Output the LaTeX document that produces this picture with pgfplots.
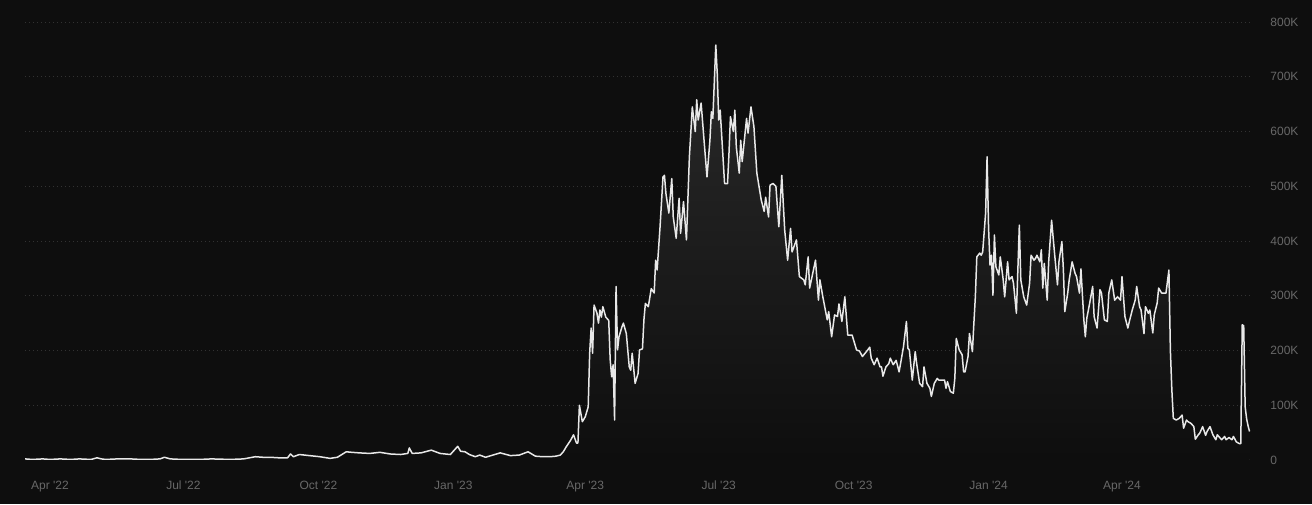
\documentclass[border=0pt]{standalone}
\usepackage{pgfplots}
\pgfplotsset{compat=1.18}
\usepackage{pgfplotstable}
\usepackage{fontspec}
\setmainfont{Liberation Sans}
\definecolor{bgc}{RGB}{14,14,14}
\definecolor{txt}{RGB}{104,104,104}
\definecolor{gridc}{RGB}{50,50,50}
\definecolor{linec}{RGB}{232,232,232}
\definecolor{fillc}{RGB}{42,42,42}

\pgfplotstableread{
day val
-17 2
-12 1
-5 2
0 1
7 2
14 1
20 2
28 1
32 4
35 2
38 1
46 2
55 2
62 1
68 1
75 2
78 5
82 2
90 1
102 1
110 2
123 1
132 2
140 6
145 5
150 5
156 4
162 4
164 11
166 6
170 10
177 8
184 6
191 3
196 5
202 15
206 14
211 13
218 12
225 14
232 11
239 10
244 12
245 22
247 12
253 13
260 18
266 12
273 10
278 25
280 16
283 15
286 10
290 6
293 9
297 5
302 9
307 13
314 8
320 9
326 15
331 7
336 6
341 6
345 7
348 9
350 15
352 24
355 36
357 46
359 31
360 31
361 100
363 70
365 79
367 97
368 195
369 241
370 195
371 283
373 268
374 250
375 274
376 261
377 280
379 261
381 255
382 183
383 152
384 174
385 73
386 317
387 201
388 225
390 243
391 250
393 231
395 170
396 164
397 195
399 140
401 158
402 201
404 203
405 256
406 286
408 280
410 313
412 305
413 365
414 347
416 426
418 517
419 520
420 487
422 451
424 514
425 444
427 405
429 478
430 414
432 472
434 402
436 554
438 645
440 600
441 658
442 621
444 652
446 584
448 517
450 584
451 636
452 624
454 758
455 706
456 621
457 639
460 505
462 505
463 560
464 627
466 600
467 639
468 572
470 524
471 584
472 545
475 624
476 597
478 645
480 609
482 524
485 475
487 454
488 480
490 444
491 502
493 505
495 500
497 426
499 520
501 420
503 365
505 423
506 380
509 402
511 335
514 329
515 320
517 371
518 314
522 365
524 292
525 329
527 298
530 256
531 271
533 225
535 265
537 262
538 285
540 253
542 298
544 228
547 228
548 219
550 201
552 199
554 189
557 199
559 206
560 186
562 174
564 186
566 170
567 170
568 153
570 170
572 176
573 186
575 174
577 182
579 161
580 176
582 207
584 253
585 204
586 201
588 146
590 198
591 176
593 140
595 134
596 170
598 140
600 131
601 116
603 140
605 149
606 146
608 146
610 146
611 131
612 143
614 125
616 122
617 149
618 222
620 201
622 192
623 161
624 161
626 189
627 231
629 198
630 250
631 298
632 371
634 378
635 374
636 380
638 451
639 554
640 426
641 356
642 374
643 301
644 411
645 353
647 338
648 371
650 329
651 298
653 362
654 329
656 335
657 323
659 268
661 429
662 329
664 298
666 283
668 323
669 374
671 365
672 368
673 374
675 362
676 384
677 314
678 359
680 292
681 362
683 438
685 378
687 320
688 362
690 399
691 350
692 271
694 305
695 329
697 362
699 341
700 335
702 305
703 349
705 256
706 225
707 259
709 287
711 317
712 262
714 241
716 311
717 305
719 256
721 253
722 305
724 329
726 292
728 298
730 292
731 335
733 262
735 241
736 253
738 274
740 292
741 317
743 280
744 274
746 231
747 280
749 268
750 274
752 232
753 265
755 287
756 314
758 305
760 305
761 305
763 347
764 200
765 128
766 76
768 73
770 76
772 82
773 58
775 73
776 70
778 67
780 61
781 38
783 46
784 49
786 61
788 45
789 52
791 61
793 46
795 37
796 46
797 43
799 37
801 43
802 37
804 41
806 37
807 43
809 33
811 30
812 30
813 247
814 245
815 97
816 75
817 62
818 52
}\datatable

\begin{document}
\begin{tikzpicture}
\useasboundingbox (-12.5pt,-22pt) rectangle (643.5pt,230pt);
\fill[bgc] (-12.5pt,-22pt) rectangle (643.5pt,230pt);
\begin{axis}[
  at={(0pt,0pt)}, anchor=south west,
  scale only axis, width=612.5pt, height=219pt,
  xmin=-17.05, xmax=818.3, ymin=0, ymax=800,
  axis line style={draw=none},
  major tick length=0pt,
  xtick={0,91,183,275,365,456,548,640,731},
  xticklabels={Apr \textquotesingle22, Jul \textquotesingle22, Oct \textquotesingle22, Jan \textquotesingle23, Apr \textquotesingle23, Jul \textquotesingle23, Oct \textquotesingle23, Jan \textquotesingle24, Apr \textquotesingle24},
  ytick={0,100,200,300,400,500,600,700,800},
  yticklabels={0,100K,200K,300K,400K,500K,600K,700K,800K},
  yticklabel pos=right,
  ymajorgrids,
  grid style={gridc, line width=0.5pt, dash pattern=on 0.6pt off 1.4pt},
  tick label style={font=\fontsize{6}{7}\selectfont, text=txt, inner sep=0pt},
  yticklabel style={anchor=west, xshift=10pt},
  xticklabel style={anchor=base, yshift=-14.5pt},
]
\addplot[draw=none, top color=fillc, bottom color=bgc, forget plot] table[x=day,y=val]{\datatable} \closedcycle;
\addplot[linec, line width=0.75pt, line join=round, mark=none] table[x=day,y=val]{\datatable};
\end{axis}
\end{tikzpicture}
\end{document}
